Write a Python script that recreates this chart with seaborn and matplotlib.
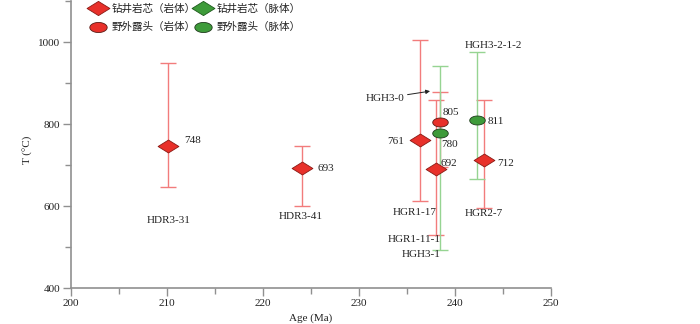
import numpy as np
import pandas as pd
import matplotlib
matplotlib.use("Agg")
import matplotlib.pyplot as plt
from matplotlib.path import Path
from matplotlib.lines import Line2D
import seaborn as sns

# ---------------- data ----------------
samples = ["HDR3-31", "HDR3-41", "HGR1-17", "HGR1-11-1", "HGR2-7", "HGH3-0", "HGH3-1", "HGH3-2-1-2"]
ages = [210.1, 224.1, 236.4, 238.0, 243.0, 238.4, 238.4, 242.3]
temps = [748, 693, 761, 692, 712, 805, 780, 811]
t_max = [949, 747, 1005, 860, 860, 879, 942, 976]
t_min = [646, 600, 613, 531, 596, 695, 494, 667]
groups = ["drill_rock", "drill_rock", "drill_rock", "drill_rock", "drill_rock",
          "field_rock", "field_vein", "field_vein"]
legend_labels = ["钻井岩芯（岩体）", "钻井岩芯（脉体）", "野外露头（岩体）", "野外露头（脉体）"]
x_label = "Age (Ma)"
y_label = "T (°C)"

df = pd.DataFrame({"sample": samples, "age": ages, "T": temps,
                   "tmax": t_max, "tmin": t_min, "group": groups})

# ---------------- style ----------------
sns.set_theme(style="ticks")
plt.rcParams["font.family"] = ["Liberation Serif", "DejaVu Serif"]
cjk = ["Noto Sans CJK SC", "DejaVu Sans"]

RED = "#e8302a"
GREEN = "#3e9b3a"
RED_BAR = "#f27c7c"
GREEN_BAR = "#96d492"

diamond = Path([(-1, 0), (0, 0.62), (1, 0), (0, -0.62), (-1, 0)],
               [Path.MOVETO, Path.LINETO, Path.LINETO, Path.LINETO, Path.CLOSEPOLY])
th = np.linspace(0, 2 * np.pi, 60)
ellipse = Path(np.column_stack([np.cos(th), 0.58 * np.sin(th)]))

fig = plt.figure(figsize=(7.0, 3.24), dpi=100)
ax = fig.add_axes([71 / 700, 1 - 288.3 / 324, 480 / 700, (288.3 - 1.4) / 324])

bar_color = {"drill_rock": RED_BAR, "drill_vein": GREEN_BAR, "field_rock": RED_BAR, "field_vein": GREEN_BAR}
fill_color = {"drill_rock": RED, "drill_vein": GREEN, "field_rock": RED, "field_vein": GREEN}
edge_color = {"drill_rock": "#8a1a14", "drill_vein": "#1e5a1c", "field_rock": "#5a1a14", "field_vein": "#1e3a1c"}
marker_of = {"drill_rock": diamond, "drill_vein": diamond, "field_rock": ellipse, "field_vein": ellipse}
size_of = {"drill_rock": 225, "drill_vein": 225, "field_rock": 125, "field_vein": 125}

for _, r in df.iterrows():
    ax.errorbar(r["age"], r["T"], yerr=[[r["T"] - r["tmin"]], [r["tmax"] - r["T"]]],
                fmt="none", ecolor=bar_color[r["group"]], elinewidth=1.0,
                capsize=6, capthick=1.0, zorder=2)

for g in ["drill_rock", "field_rock", "field_vein"]:
    sub = df[df["group"] == g]
    sns.scatterplot(data=sub, x="age", y="T", marker=marker_of[g], s=size_of[g],
                    color=fill_color[g], edgecolor=edge_color[g], linewidth=0.6,
                    ax=ax, zorder=3, legend=False)

# value labels (offsets in points from each point)
val_offsets = {"HDR3-31": (12, 4, "left"), "HDR3-41": (11, 0, "left"),
               "HGR1-17": (-12, -1, "right"), "HGR1-11-1": (3.5, 3.6, "left"),
               "HGR2-7": (9.5, -2, "left"), "HGH3-0": (2.5, 7.2, "left"),
               "HGH3-1": (1, -8.4, "left"), "HGH3-2-1-2": (7.4, -1.5, "left")}
for _, r in df.iterrows():
    dx, dy, ha = val_offsets[r["sample"]]
    ax.annotate(f"{r['T']}", (r["age"], r["T"]), xytext=(dx, dy), textcoords="offset points",
                ha=ha, va="center", fontsize=8, color="#222222", zorder=5)

# sample name labels (layout positions in data coordinates)
name_pos = {"HDR3-31": (210.2, 565), "HDR3-41": (223.9, 576), "HGR1-17": (235.8, 585),
            "HGR1-11-1": (235.7, 518), "HGR2-7": (243.05, 583), "HGH3-1": (236.5, 482),
            "HGH3-2-1-2": (243.96, 993)}
for s, (px, py) in name_pos.items():
    ax.text(px, py, s, ha="center", va="center", fontsize=8, color="#222222")
ax.annotate("HGH3-0", xy=(237.4, 881), xytext=(232.7, 864), ha="center", va="center",
            fontsize=8, color="#222222",
            arrowprops=dict(arrowstyle="-|>", color="#222222", lw=0.7, mutation_scale=6,
                            shrinkA=0, shrinkB=0), zorder=5)

# axes
ax.set_xlim(200, 250)
ax.set_ylim(400, 1100)
ax.set_xticks([200, 210, 220, 230, 240, 250])
ax.set_xticks([205, 215, 225, 235, 245], minor=True)
ax.set_yticks([400, 600, 800, 1000])
ax.set_yticks([500, 700, 900, 1100], minor=True)
for sp in ["top", "right"]:
    ax.spines[sp].set_visible(False)
for sp in ["left", "bottom"]:
    ax.spines[sp].set_color("#909090")
    ax.spines[sp].set_linewidth(1.2)
ax.tick_params(axis="both", which="major", length=6, width=1, color="#909090",
               labelsize=8, labelcolor="#222222", pad=2)
ax.tick_params(axis="both", which="minor", length=4, width=1, color="#909090")
ax.set_xlabel("")
ax.set_ylabel("")
fig.text(311 / 700, 1 - 318 / 324, x_label, ha="center", va="center", fontsize=8, color="#222222")
fig.text(28 / 700, 1 - 150 / 324, y_label, ha="center", va="center", rotation=90, fontsize=8, color="#222222")
ax.set_facecolor("white")

# legend
handles = [
    Line2D([], [], ls="none", marker=diamond, markersize=16.5, markerfacecolor=RED, markeredgecolor="#8a1a14", markeredgewidth=0.6),
    Line2D([], [], ls="none", marker=ellipse, markersize=12.5, markerfacecolor=RED, markeredgecolor="#5a1a14", markeredgewidth=0.6),
    Line2D([], [], ls="none", marker=diamond, markersize=16.5, markerfacecolor=GREEN, markeredgecolor="#1e5a1c", markeredgewidth=0.6),
    Line2D([], [], ls="none", marker=ellipse, markersize=12.5, markerfacecolor=GREEN, markeredgecolor="#1e3a1c", markeredgewidth=0.6),
]
labels = [legend_labels[0], legend_labels[2], legend_labels[1], legend_labels[3]]
leg = fig.legend(handles, labels, ncol=2, loc="upper left", bbox_to_anchor=(82 / 700, 1 + 2 / 324),
                 frameon=False, prop={"family": cjk, "size": 7.6}, handlelength=2.1,
                 handletextpad=0.2, columnspacing=-0.3, labelspacing=0.85, borderpad=0.0)
for t in leg.get_texts():
    t.set_color("#222222")

fig.savefig("out.png", dpi=100, facecolor="white")
